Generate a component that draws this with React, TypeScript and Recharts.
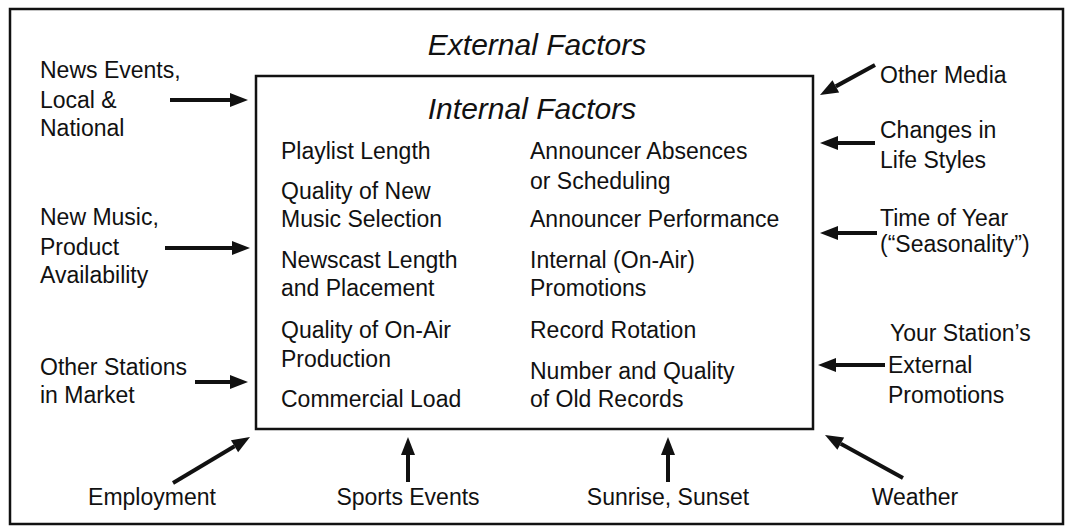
import { ScatterChart, Scatter, XAxis, YAxis, ReferenceArea, ReferenceLine } from "recharts";

// Diagram space is 1070 x 530 units, y grows downward (reversed axis).
const W = 1070;
const H = 530;
const INK = "#111";
const FONT = '"Liberation Sans", Arial, Helvetica, sans-serif';

type Pt = { x: number; y: number };
type Label = Pt & { text: string };

const TITLES: Label[] = [
  { text: "External Factors", x: 537, y: 44 },
  { text: "Internal Factors", x: 532, y: 108 },
];

const EXTERNAL_LEFT: Label[] = [
  { text: "News Events,", x: 40, y: 70 },
  { text: "Local &", x: 40, y: 100 },
  { text: "National", x: 40, y: 128 },
  { text: "New Music,", x: 40, y: 217 },
  { text: "Product", x: 40, y: 247 },
  { text: "Availability", x: 40, y: 275 },
  { text: "Other Stations", x: 40, y: 367 },
  { text: "in Market", x: 40, y: 395 },
];

const EXTERNAL_RIGHT: Label[] = [
  { text: "Other Media", x: 880, y: 75 },
  { text: "Changes in", x: 880, y: 130 },
  { text: "Life Styles", x: 880, y: 160 },
  { text: "Time of Year", x: 880, y: 218 },
  { text: "(\u201CSeasonality\u201D)", x: 880, y: 244 },
  { text: "Your Station\u2019s", x: 890, y: 333 },
  { text: "External", x: 888, y: 365 },
  { text: "Promotions", x: 888, y: 395 },
];

const EXTERNAL_BOTTOM: Label[] = [
  { text: "Employment", x: 152, y: 497 },
  { text: "Sports Events", x: 408, y: 497 },
  { text: "Sunrise, Sunset", x: 668, y: 497 },
  { text: "Weather", x: 915, y: 497 },
];

const INTERNAL_LEFT: Label[] = [
  { text: "Playlist Length", x: 281, y: 151 },
  { text: "Quality of New", x: 281, y: 191 },
  { text: "Music Selection", x: 281, y: 219 },
  { text: "Newscast Length", x: 281, y: 260 },
  { text: "and Placement", x: 281, y: 288 },
  { text: "Quality of On-Air", x: 281, y: 330 },
  { text: "Production", x: 281, y: 359 },
  { text: "Commercial Load", x: 281, y: 399 },
];

const INTERNAL_RIGHT: Label[] = [
  { text: "Announcer Absences", x: 530, y: 151 },
  { text: "or Scheduling", x: 530, y: 181 },
  { text: "Announcer Performance", x: 530, y: 219 },
  { text: "Internal (On-Air)", x: 530, y: 260 },
  { text: "Promotions", x: 530, y: 288 },
  { text: "Record Rotation", x: 530, y: 330 },
  { text: "Number and Quality", x: 530, y: 371 },
  { text: "of Old Records", x: 530, y: 399 },
];

const FRAMES = [
  { x1: 10, x2: 1063, y1: 9, y2: 524 },
  { x1: 256, x2: 813, y1: 76, y2: 429 },
];

// tail -> head
const ARROWS: [Pt, Pt][] = [
  [{ x: 170, y: 100 }, { x: 248, y: 100 }],
  [{ x: 165, y: 248 }, { x: 250, y: 248 }],
  [{ x: 195, y: 382 }, { x: 248, y: 382 }],
  [{ x: 875, y: 65 }, { x: 820, y: 95 }],
  [{ x: 875, y: 143 }, { x: 820, y: 143 }],
  [{ x: 877, y: 233 }, { x: 820, y: 233 }],
  [{ x: 885, y: 365 }, { x: 818, y: 365 }],
  [{ x: 173, y: 483 }, { x: 250, y: 437 }],
  [{ x: 408, y: 482 }, { x: 408, y: 437 }],
  [{ x: 668, y: 482 }, { x: 668, y: 437 }],
  [{ x: 903, y: 478 }, { x: 825, y: 435 }],
];

function textShape(anchor: "start" | "middle", size: number, italic = false) {
  return (props: any) => (
    <text
      x={props.cx}
      y={props.cy}
      textAnchor={anchor}
      dominantBaseline="central"
      fontFamily={FONT}
      fontSize={size}
      fontStyle={italic ? "italic" : "normal"}
      fill={INK}
    >
      {props.payload.text}
    </text>
  );
}

function Arrow(props: any) {
  const { x1, y1, x2, y2 } = props;
  const dx = x2 - x1;
  const dy = y2 - y1;
  const len = Math.hypot(dx, dy) || 1;
  const ux = dx / len;
  const uy = dy / len;
  const head = 18;
  const half = 7;
  const bx = x2 - ux * head;
  const by = y2 - uy * head;
  const px = -uy;
  const py = ux;
  return (
    <g>
      <line x1={x1} y1={y1} x2={bx} y2={by} stroke={INK} strokeWidth={4} />
      <polygon
        points={`${x2},${y2} ${bx + px * half},${by + py * half} ${bx - px * half},${by - py * half}`}
        fill={INK}
      />
    </g>
  );
}

export default function App() {
  return (
    <div style={{ position: "absolute", left: 0, top: 0, width: W, height: H, background: "#fff" }}>
      <ScatterChart width={W} height={H} margin={{ top: 0, right: 0, bottom: 0, left: 0 }}>
        <XAxis type="number" dataKey="x" domain={[0, W]} hide />
        <YAxis type="number" dataKey="y" domain={[0, H]} reversed hide />
        {FRAMES.map((f, i) => (
          <ReferenceArea
            key={i}
            x1={f.x1}
            x2={f.x2}
            y1={f.y1}
            y2={f.y2}
            fill="none"
            fillOpacity={0}
            stroke={INK}
            strokeWidth={2.5}
          />
        ))}
        {ARROWS.map((a, i) => (
          <ReferenceLine key={i} segment={a} shape={Arrow} />
        ))}
        <Scatter data={TITLES} shape={textShape("middle", 30, true)} isAnimationActive={false} />
        <Scatter data={EXTERNAL_LEFT} shape={textShape("start", 23)} isAnimationActive={false} />
        <Scatter data={EXTERNAL_RIGHT} shape={textShape("start", 23)} isAnimationActive={false} />
        <Scatter data={EXTERNAL_BOTTOM} shape={textShape("middle", 23)} isAnimationActive={false} />
        <Scatter data={INTERNAL_LEFT} shape={textShape("start", 23)} isAnimationActive={false} />
        <Scatter data={INTERNAL_RIGHT} shape={textShape("start", 23)} isAnimationActive={false} />
      </ScatterChart>
    </div>
  );
}
